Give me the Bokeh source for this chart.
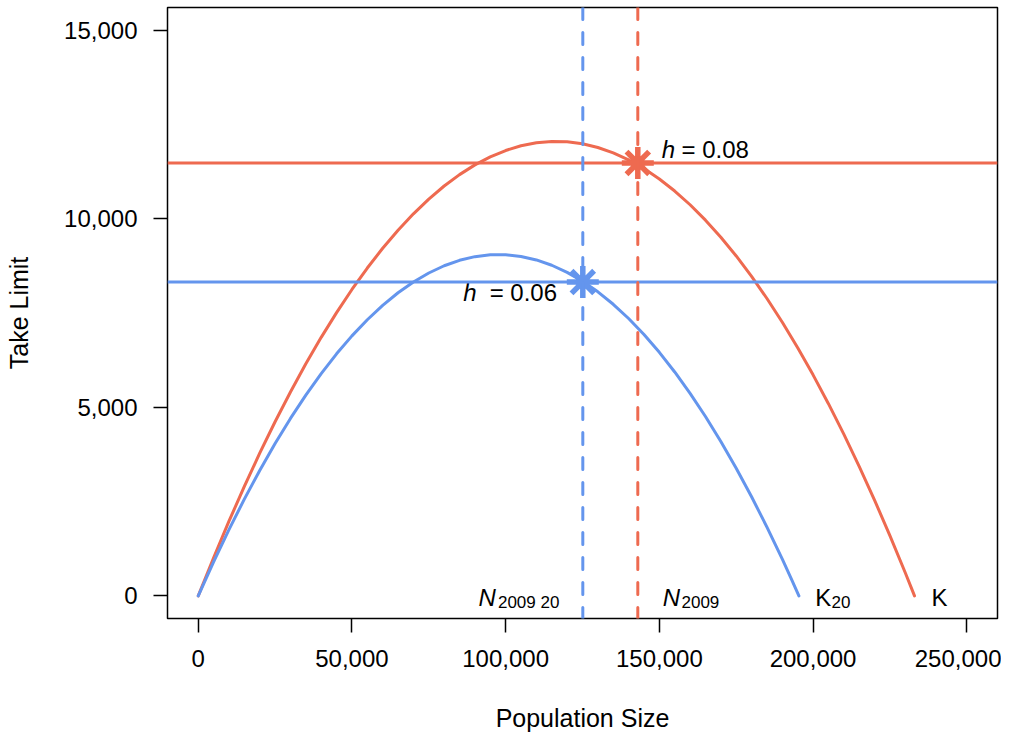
from bokeh.plotting import figure
from bokeh.models import Range1d, FixedTicker, NumeralTickFormatter, Span
from bokeh.core.properties import value
from bokeh.embed import file_html
from bokeh.resources import INLINE

# --- data ---
pop_red = [0, 5000, 10000, 15000, 20000, 25000, 30000, 35000, 40000, 45000, 50000,
           55000, 60000, 65000, 70000, 75000, 80000, 85000, 90000, 95000, 100000,
           105000, 110000, 115000, 120000, 125000, 130000, 135000, 140000, 145000, 150000,
           155000, 160000, 165000, 170000, 175000, 180000, 185000, 190000, 195000, 200000,
           205000, 210000, 215000, 220000, 225000, 230000, 232000, 233000]
take_red = [0, 1012, 1980, 2903, 3782, 4617, 5407, 6153, 6854, 7511, 8124,
            8692, 9216, 9695, 10130, 10521, 10867, 11169, 11427, 11640, 11808,
            11933, 12012, 12048, 12039, 11986, 11888, 11746, 11560, 11329, 11054,
            10734, 10370, 9962, 9509, 9012, 8470, 7884, 7254, 6579, 5860,
            5096, 4288, 3436, 2539, 1598, 613, 206, 0]

pop_blue = [0, 5000, 10000, 15000, 20000, 25000, 30000, 35000, 40000, 45000, 50000,
            55000, 60000, 65000, 70000, 75000, 80000, 85000, 90000, 95000, 100000,
            105000, 110000, 115000, 120000, 125000, 130000, 135000, 140000, 145000, 150000,
            155000, 160000, 165000, 170000, 175000, 180000, 185000, 190000, 193000, 195400]
take_blue = [0, 903, 1758, 2566, 3326, 4039, 4705, 5323, 5893, 6417, 6893,
             7321, 7702, 8036, 8323, 8561, 8753, 8897, 8994, 9043, 9045,
             8999, 8907, 8766, 8578, 8343, 8061, 7731, 7354, 6929, 6457,
             5937, 5370, 4756, 4094, 3385, 2628, 1824, 973, 439, 0]

limit_red = 11480     # h = 0.08
limit_blue = 8320     # h = 0.06
n2009 = 142990
n2009_20 = 125100

x_ticks = [0, 50000, 100000, 150000, 200000, 250000]
y_ticks = [0, 5000, 10000, 15000]

RED = "#EE6A50"
BLUE = "#6495ED"
FONT = "Liberation Sans"

p = figure(frame_width=830, frame_height=611,
           min_border_left=167, min_border_right=4, min_border_top=7, min_border_bottom=105,
           x_range=Range1d(-10000, 260000), y_range=Range1d(-600, 15600),
           output_backend="svg", toolbar_location=None)

p.grid.visible = False
p.outline_line_color = "black"
p.outline_line_width = 1.5
p.background_fill_color = "white"
p.border_fill_color = "white"

for ax, ticks in ((p.xaxis, x_ticks), (p.yaxis, y_ticks)):
    ax.ticker = FixedTicker(ticks=ticks)
    ax.formatter = NumeralTickFormatter(format="0,0")
    ax.axis_line_color = None
    ax.major_tick_out = 14
    ax.major_tick_in = 0
    ax.minor_tick_line_color = None
    ax.major_tick_line_color = "black"
    ax.major_tick_line_width = 1.5
    ax.major_label_text_font = FONT
    ax.major_label_text_font_size = "24px"
    ax.major_label_text_color = "black"
    ax.axis_label_text_font = FONT
    ax.axis_label_text_font_size = "25px"
    ax.axis_label_text_font_style = "normal"
    ax.axis_label_text_color = "black"

p.xaxis.axis_label = "Population Size"
p.yaxis.axis_label = "Take Limit"
p.xaxis.major_label_standoff = 17
p.yaxis.major_label_standoff = 16
p.xaxis.axis_label_standoff = 34
p.yaxis.axis_label_standoff = 28

# horizontal take-limit lines and vertical dashed population lines
p.add_layout(Span(location=limit_red, dimension="width", line_color=RED, line_width=3))
p.add_layout(Span(location=limit_blue, dimension="width", line_color=BLUE, line_width=3))
p.add_layout(Span(location=n2009_20, dimension="height", line_color=BLUE, line_width=3,
                  line_dash="12 13", line_cap="round"))
p.add_layout(Span(location=n2009, dimension="height", line_color=RED, line_width=3,
                  line_dash="12 13", line_cap="round"))

# curves
p.line(pop_red, take_red, line_color=RED, line_width=3, line_cap="round", line_join="round")
p.line(pop_blue, take_blue, line_color=BLUE, line_width=3, line_cap="round", line_join="round")

# stars
p.scatter([n2009], [limit_red], marker="asterisk", size=32, line_color=RED, line_width=5.5)
p.scatter([n2009_20], [limit_blue], marker="asterisk", size=32, line_color=BLUE, line_width=5.5)

def txt(x, y, s, size="24px", style="normal", baseline="middle"):
    p.text([x], [y], text=[s], text_font=value(FONT), text_font_size=size,
           text_font_style=style, text_color="black", text_align="left",
           text_baseline=baseline)

# h labels
txt(150800, 11834, "h", style="italic")
txt(157200, 11834, "= 0.08")
txt(86200, 8043, "h", style="italic")
txt(94800, 8043, "= 0.06")

# N and K labels
txt(91200, -34, "N", style="italic", baseline="alphabetic")
txt(97500, -167, "2009 20", size="17px", baseline="alphabetic")
txt(151100, -34, "N", style="italic", baseline="alphabetic")
txt(157200, -167, "2009", size="17px", baseline="alphabetic")
txt(200700, -34, "K", baseline="alphabetic")
txt(206000, -167, "20", size="17px", baseline="alphabetic")
txt(238500, -34, "K", baseline="alphabetic")

open("out.html", "w").write(file_html(p, INLINE))
